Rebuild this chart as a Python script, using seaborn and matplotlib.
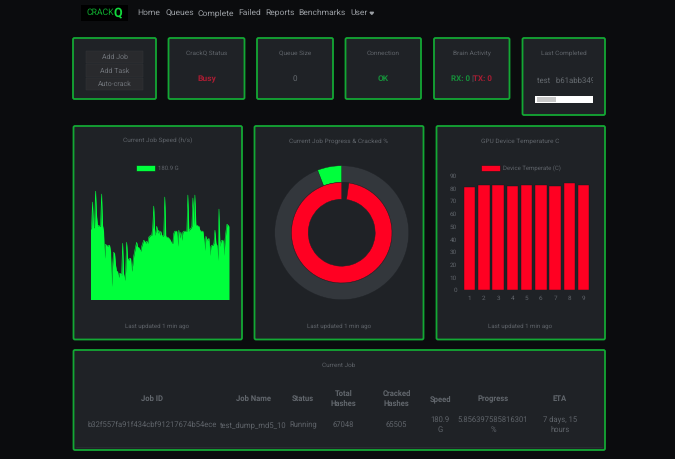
import matplotlib
matplotlib.use("Agg")
import numpy as np
import pandas as pd
import matplotlib.pyplot as plt
from matplotlib.patches import Rectangle, FancyBboxPatch, Patch
import seaborn as sns

nav_labels = ["Home", "Queues", "Complete", "Failed", "Reports", "Benchmarks", "User"]
button_labels = ["Add Job", "Add Task", "Auto-crack"]

speed_values = [
    70, 71, 97, 71, 73, 108, 84, 73, 74, 73, 73, 105, 74, 68, 41, 55, 54, 53, 54, 54,
    48, 13, 34, 47, 46, 34, 28, 28, 22, 26, 26, 24, 56, 26, 19, 28, 57, 41, 39, 41,
    41, 28, 34, 43, 48, 53, 57, 52, 52, 50, 48, 53, 56, 59, 58, 56, 58, 56, 62, 63,
    64, 64, 72, 93, 64, 67, 73, 66, 69, 64, 68, 64, 63, 64, 102, 63, 62, 62, 61, 60,
    58, 56, 56, 66, 68, 68, 68, 53, 69, 61, 67, 59, 67, 68, 68, 68, 68, 104, 68, 70,
    71, 73, 101, 74, 104, 74, 74, 73, 73, 69, 68, 68, 68, 60, 49, 63, 60, 59, 61, 44,
    53, 54, 54, 56, 69, 56, 54, 39, 90, 53, 58, 59, 59, 44, 59, 68, 75, 74, 73,
]
speed_label = "180.9 G"

progress_pct = [94.144, 5.856]
cracked_hashes = [1543, 65505]

gpu_ids = ["1", "2", "3", "4", "5", "6", "7", "8", "9"]
gpu_temps = [81, 83, 83, 82, 83, 83, 82, 84, 83]
temp_ticks = [0, 10, 20, 30, 40, 50, 60, 70, 80, 90]

table_headers = ["Job ID", "Job Name", "Status", "Total\nHashes", "Cracked\nHashes",
                 "Speed", "Progress", "ETA"]
table_row = ["b32f557fa91f434cbf91217674b54ece", "test_dump_md5_10", "Running", "67048",
             "65505", "180.9\nG", "5.856397585816301\n%", "7 days, 15\nhours"]

BG = "#0b0c0e"
PANEL = "#1f2226"
BORDER = "#13a834"
TEXT = "#5f646a"
RED = "#ff0022"
GREEN = "#00ff3c"
W, H = 675, 459

sns.set_theme(style="dark", rc={"figure.facecolor": BG, "axes.facecolor": "none"})
plt.rcParams["font.family"] = ["Roboto", "DejaVu Sans"]
plt.rcParams["text.hinting"] = "no_hinting"

fig = plt.figure(figsize=(W / 100, H / 100), dpi=100, facecolor=BG)


def px_axes(left, top, right, bottom):
    return fig.add_axes([left / W, 1 - bottom / H, (right - left) / W, (bottom - top) / H])


page = fig.add_axes([0, 0, 1, 1])
page.set_xlim(0, W)
page.set_ylim(H, 0)
page.axis("off")


def card(left, top, right, bottom):
    page.add_patch(FancyBboxPatch((left, top), right - left, bottom - top,
                                  boxstyle="round,pad=0,rounding_size=1.5",
                                  fc=PANEL, ec=BORDER, lw=1.3))


def label(x, y, s, size=4.65, color=TEXT, **kw):
    kw.setdefault("ha", "center")
    return page.text(x, y, s, fontsize=size, color=color, va="center", **kw)


# navbar
page.add_patch(Rectangle((81, 5), 47, 16, fc="#000000", ec="none"))
label(100, 12.5, "CRACK", size=6.2, color="#0fae30")
label(117.5, 13.5, "Q", size=9, color="#12d83c", fontweight="bold")
for x, name in zip([149, 179.5, 216, 250, 280.5, 322, 359], nav_labels):
    label(x, 13, name, size=6.1, color="#9a9ea3")
page.fill([370, 373.6, 371.8], [12.3, 12.3, 14.4], color="#9a9ea3")

# top row of small cards
for box in [(73, 38, 156, 99), (168.5, 38, 244.5, 99), (257, 38, 333, 99),
            (345.5, 38, 421, 99), (434, 38, 509.5, 99), (522.5, 38, 605, 115)]:
    card(*box)

for top, name in zip([50.5, 64, 77.5], button_labels):
    page.add_patch(Rectangle((86, top), 57, 12.6, fc="#292a2d", ec="#36373a", lw=0.3))
    label(114.5, top + 6.6, name, size=5.0, color="#70747a")

label(206.5, 53.5, "CrackQ Status")
label(206.5, 79, "Busy", size=6.1, color="#a81d33", fontweight="bold")
label(295, 53.5, "Queue Size")
label(295, 79, "0", size=5.9, color="#666b70")
label(383, 53.5, "Connection")
label(383, 79, "OK", size=6.0, color="#168f3a", fontweight="bold")
label(471.5, 53.5, "Brain Activity")
label(461, 79, "RX: 0", size=5.8, color="#168f3a", fontweight="bold")
label(472, 79, "|", size=5.8)
label(482, 79, "TX: 0", size=5.8, color="#a81d33", fontweight="bold")
label(563.5, 53.5, "Last Completed")
last_job = label(537, 81, "test   b61abb349c", size=5.6, color="#666b70", ha="left")
last_job.set_clip_path(Rectangle((537, 70), 55.5, 20, transform=page.transData))
last_job.set_clip_on(True)
page.add_patch(Rectangle((535, 96), 58, 7, fc="#ffffff", ec="none"))
page.add_patch(Rectangle((536.5, 97), 19, 5, fc="#c8c8c8", ec="none"))

# chart cards
for box in [(73.5, 126, 242, 339.5), (254.5, 126, 423.5, 339.5), (436.5, 126, 605, 339.5)]:
    card(*box)
label(157.5, 141, "Current Job Speed (h/s)")
label(339, 141, "Current Job Progress & Cracked %")
label(520.5, 141, "GPU Device Temperature C")
for x in [157.5, 339, 520.5]:
    label(x, 326, "Last updated 1 min ago", size=4.45)

# speed chart
speed_df = pd.DataFrame({"sample": np.arange(len(speed_values)), "speed": speed_values})
ax_speed = px_axes(90.5, 191, 229, 299.5)
ax_speed.fill_between(speed_df["sample"], speed_df["speed"], color=GREEN, lw=0)
sns.lineplot(data=speed_df, x="sample", y="speed", color=GREEN, lw=0.4, ax=ax_speed)
ax_speed.set_xlim(0, len(speed_values) - 1)
ax_speed.set_ylim(0, 108)
ax_speed.axis("off")
ax_speed.legend(handles=[Patch(fc=GREEN, ec="#14181b", lw=0.4, label=speed_label)],
                loc="center", bbox_to_anchor=(157.5 / W, 1 - 168.5 / H),
                bbox_transform=fig.transFigure, frameon=False, fontsize=4.3,
                labelcolor=TEXT, handlelength=3.2, handleheight=1.1, handletextpad=0.5)

# progress doughnut
ax_pie = px_axes(341.7 - 67, 232.7 - 67, 341.7 + 67, 232.7 + 67)
ax_pie.pie(progress_pct, colors=["#33373c", GREEN], radius=1.0, startangle=90,
           counterclock=False, wedgeprops={"width": 0.25, "edgecolor": PANEL, "lw": 0.3})
ax_pie.pie(cracked_hashes, colors=[PANEL, RED], radius=0.75, startangle=90,
           counterclock=False, wedgeprops={"width": 0.25, "edgecolor": PANEL, "lw": 0.3})
ax_pie.set_xlim(-1, 1)
ax_pie.set_ylim(-1, 1)

# temperature bars
temp_df = pd.DataFrame({"gpu": gpu_ids, "temp": gpu_temps})
ax_temp = px_axes(462.5, 175.7, 590.7, 290)
sns.barplot(data=temp_df, x="gpu", y="temp", color=RED, saturation=1, width=0.8,
            edgecolor="#14181b", linewidth=0.3, ax=ax_temp)
ax_temp.set_xlim(-0.5, 8.5)
ax_temp.set_ylim(0, 90)
ax_temp.set_yticks(temp_ticks)
ax_temp.set_xlabel("")
ax_temp.set_ylabel("")
ax_temp.tick_params(axis="both", length=0, labelsize=4.6, labelcolor=TEXT, pad=4)
ax_temp.grid(False)
sns.despine(ax=ax_temp, left=True, bottom=True)
ax_temp.legend(handles=[Patch(fc=RED, ec="#14181b", lw=0.4, label="Device Temperate (C)")],
               loc="center", bbox_to_anchor=(520.5 / W, 1 - 168.5 / H),
               bbox_transform=fig.transFigure, frameon=False, fontsize=4.3,
               labelcolor=TEXT, handlelength=3.2, handleheight=1.1, handletextpad=0.5)

# current job table
card(73.5, 350, 605, 450)
page.plot([76, 602], [447, 447], color="#2d3136", lw=0.5)
label(339, 365, "Current Job", size=4.6)
col_x = [152.3, 253, 303, 343.5, 396.7, 440, 493, 559.7]
for x, head, val in zip(col_x, table_headers, table_row):
    label(x, 398.7, head, size=5.5, color="#62676d", fontweight="bold", linespacing=1.35)
    label(x, 424.7, val, size=5.5, color=TEXT, linespacing=1.5)

fig.savefig("out.png", dpi=100, facecolor=BG)
